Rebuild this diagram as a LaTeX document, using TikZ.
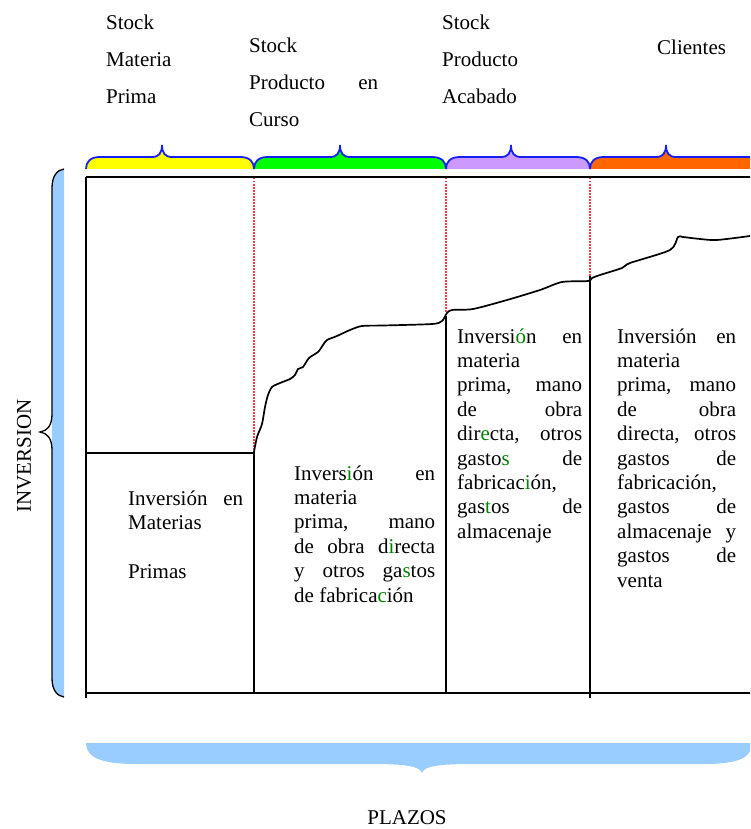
\documentclass[tikz,border=0pt]{standalone}
\usepackage{fontspec}
\setmainfont{Liberation Serif}

\definecolor{bracestroke}{RGB}{20,30,245}
\definecolor{phaseA}{RGB}{255,255,0}
\definecolor{phaseB}{RGB}{0,255,0}
\definecolor{phaseC}{RGB}{204,153,255}
\definecolor{phaseD}{RGB}{255,102,0}
\definecolor{skyband}{RGB}{153,204,255}
\definecolor{hl}{RGB}{0,128,0}
\definecolor{guide}{RGB}{255,60,60}

\newcommand{\hlc}[1]{\textcolor{hl}{#1}}
\newcommand{\textblock}[2]{\parbox[t]{#1}{\raggedright #2}}

% curly bracket over one phase: left end, tip, right end, fill colour
\newcommand{\phasebrace}[4]{%
  \fill[#4] (#1,169) .. controls (#1,162) and (#1+4,157) .. (#1+14,157)
    -- (#2-10,157) .. controls (#2-3,157) and (#2,153) .. (#2,145)
    .. controls (#2,153) and (#2+3,157) .. (#2+10,157)
    -- (#3-14,157) .. controls (#3-4,157) and (#3,162) .. (#3,169) -- cycle;
  \draw[bracestroke, line width=1.8pt] (#1,169) .. controls (#1,162) and (#1+4,157) .. (#1+14,157)
    -- (#2-10,157) .. controls (#2-3,157) and (#2,153) .. (#2,145)
    .. controls (#2,153) and (#2+3,157) .. (#2+10,157)
    -- (#3-14,157) .. controls (#3-4,157) and (#3,162) .. (#3,169);
}

\tikzset{
  frame/.style={line width=1.6pt, black},
  guideline/.style={guide, line width=1.2pt, dash pattern=on 1.5pt off 1.5pt},
  lbl/.style={anchor=base west, inner sep=0pt, font=\fontsize{21}{37}\selectfont},
  body/.style={anchor=base west, inner sep=0pt, font=\fontsize{21}{24.4}\selectfont},
  capt/.style={inner sep=0pt, font=\fontsize{21}{24}\selectfont},
  costcurve/.style={line width=1.7pt, black, line join=round, line cap=round},
}

\begin{document}
\begin{tikzpicture}[x=1pt, y=-1pt]
\clip (0,0) rectangle (750,829);

% phase brackets along the top
\phasebrace{86}{162}{254}{phaseA}
\phasebrace{254}{340}{446}{phaseB}
\phasebrace{446}{511}{590}{phaseC}
\phasebrace{590}{666}{790}{phaseD}

% phase labels
\node[lbl] (smp) at (106,30) {\textblock{80pt}{Stock\\Materia\\Prima}};
\node[lbl] (spc) at (249,53) {\textblock{129pt}{Stock\\Producto\hfill en\\Curso}};
\node[lbl] (spa) at (442,30) {\textblock{90pt}{Stock\\Producto\\Acabado}};
\node[lbl] (cli) at (657,55) {Clientes};

% vertical bracket for the investment axis
\fill[skyband] (64,169) .. controls (57,170) and (52,176) .. (52,188) -- (52,678)
  .. controls (52,690) and (57,696) .. (64,697) -- cycle;
\draw[line width=1.3pt] (64,169) .. controls (57,170) and (52,176) .. (52,188) -- (52,414)
  .. controls (52,426) and (47,431) .. (40,432) .. controls (47,433) and (52,438) .. (52,450)
  -- (52,678) .. controls (52,690) and (57,696) .. (64,697);
\node[capt, rotate=90] (inv) at (24,456) {INVERSION};

% horizontal bracket for the time axis
\fill[skyband] (86,743) .. controls (86,757) and (100,764) .. (136,764) -- (371,764)
  .. controls (405,764) and (420,766) .. (422,773) .. controls (424,766) and (439,764) .. (473,764)
  -- (704,764) .. controls (740,764) and (752,757) .. (752,743) -- cycle;
\node[capt, anchor=base] (plz) at (407,824) {PLAZOS};

% frame and phase boundaries
\coordinate (tl) at (86,177);
\coordinate (tr) at (752,177);
\coordinate (bl) at (86,693);
\coordinate (br) at (752,693);
\draw[frame] (tl) -- (tr);
\draw[frame] (tl) -- (86,698);
\draw[frame] (bl) -- (br);
\draw[frame] (86,453) -- (254,453) -- (254,693);
\draw[frame] (446,316) -- (446,693);
\draw[frame] (590,276) -- (590,698);

\draw[guideline] (254,178) -- (254,450);
\draw[guideline] (446,178) -- (446,313);
\draw[guideline] (590,178) -- (590,277);

% cumulative investment curve
\draw[costcurve] plot[smooth, tension=0.45] coordinates {
  (254,452) (257,437) (262,424) (265,407) (268,395) (272,387) (280,383) (290,379)
  (295,375) (298,369) (303,367) (309,358) (318,352) (323,345) (327,340) (337,336)
  (350,330) (362,326) (383,325.5) (432,324) (442,321) (447,313) (452,310) (473,309)
  (507,300) (540,290) (562,282) (588,281) (592,278) (600,275) (622,268) (630,263)
  (670,250) (678,237) (683,237) (700,239) (717,240) (750,236)};

% contents of each phase
\node[body] (tmp) at (128,505) {\textblock{115pt}{Inversión\hfill en\\Materias\\\mbox{}\\Primas}};
\node[body] (tpc) at (294,480) {\textblock{141pt}{Invers\hlc{i}ón\hfill en\\materia\\prima,\hfill mano\\de\hfill obra\hfill d\hlc{i}recta\\y\hfill otros\hfill ga\hlc{s}tos\\de fabrica\hlc{c}ión}};
\node[body] (tpa) at (457,343) {\textblock{125pt}{Inversi\hlc{ó}n\hfill en\\materia\\prima,\hfill mano\\de\hfill obra\\dir\hlc{e}cta,\hfill otros\\gasto\hlc{s}\hfill de\\fabricac\hlc{i}ón,\\gas\hlc{t}os\hfill de\\almacenaje}};
\node[body] (tcl) at (617,343) {\textblock{119pt}{Inversión\hfill en\\materia\\prima,\hfill mano\\de\hfill obra\\directa,\hfill otros\\gastos\hfill de\\fabricación,\\gastos\hfill de\\almacenaje\hfill y\\gastos\hfill de\\venta}};

\end{tikzpicture}
\end{document}
